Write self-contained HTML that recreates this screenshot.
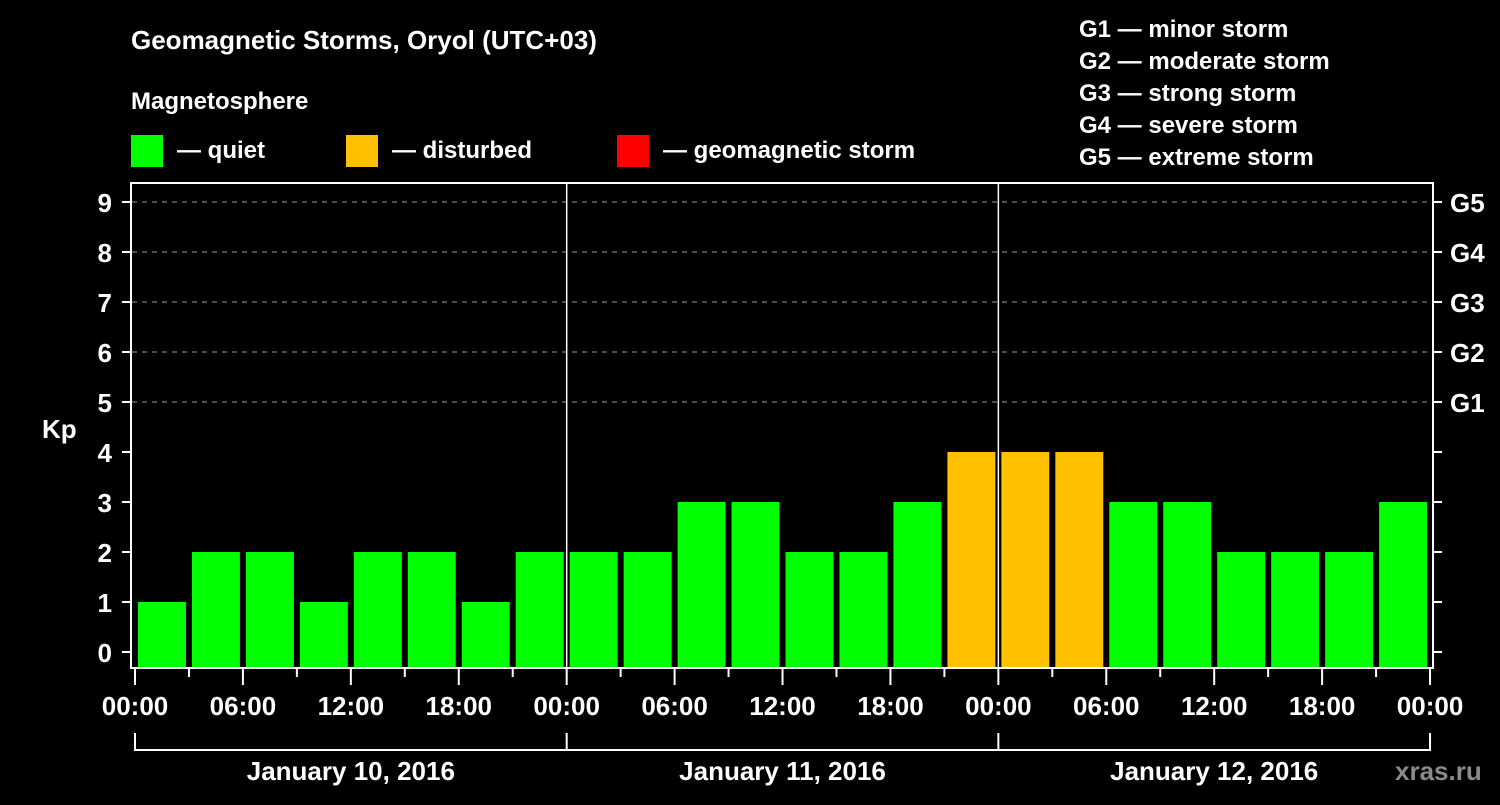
<!DOCTYPE html>
<html><head><meta charset="utf-8"><style>
body{margin:0;background:#000;}
svg text{font-family:"Liberation Sans",Arial,sans-serif;font-weight:bold;fill:#fff;}
</style></head><body>
<svg width="1500" height="800" xmlns="http://www.w3.org/2000/svg">
<rect width="1500" height="800" fill="#000"/>
<text x="131" y="49" font-size="26">Geomagnetic Storms, Oryol (UTC+03)</text>
<text x="131" y="109" font-size="24">Magnetosphere</text>
<g>
<rect x="131" y="135" width="32" height="32" fill="#00ff00"/>
<text x="177" y="158" font-size="24">— quiet</text>
<rect x="346" y="135" width="32" height="32" fill="#ffc000"/>
<text x="392" y="158" font-size="24">— disturbed</text>
<rect x="617" y="135" width="32" height="32" fill="#ff0000"/>
<text x="663" y="158" font-size="24">— geomagnetic storm</text>
</g>
<g font-size="24">
<text x="1079" y="37">G1 — minor storm</text>
<text x="1079" y="69">G2 — moderate storm</text>
<text x="1079" y="101">G3 — strong storm</text>
<text x="1079" y="133">G4 — severe storm</text>
<text x="1079" y="165">G5 — extreme storm</text>
</g>
<text x="42" y="438" font-size="26">Kp</text>
<g id="plot"></g>
<rect x="131" y="183" width="1302" height="485" fill="none" stroke="#fff" stroke-width="2"/>
<text x="1395" y="780" font-size="26" fill="#888" style="fill:#8a8a8a">xras.ru</text>
</svg>
<script>
const kpValues=[1,2,2,1,2,2,1,2, 2,2,3,3,2,2,3,4, 4,4,3,3,2,2,2,3];
const dayLabels=["January 10, 2016","January 11, 2016","January 12, 2016"];
const hourLabels=["00:00","06:00","12:00","18:00"];
const gLabels=["G1","G2","G3","G4","G5"];
const NS="http://www.w3.org/2000/svg";
const g=document.getElementById('plot');
const X0=135,SLOT=53.96,Y0=652,UNIT=50;
const xs=i=>X0+i*SLOT, ys=v=>Y0-v*UNIT;
function mk(t,a,parent){const e=document.createElementNS(NS,t);for(const k in a)e.setAttribute(k,a[k]);(parent||g).appendChild(e);return e;}
for(let v=5;v<=9;v++){const l=mk('line',{x1:132,x2:1432,y1:ys(v),y2:ys(v),stroke:'#999','stroke-dasharray':'5,5','stroke-width':1});

}
for(let v=0;v<=9;v++){
const t=mk('line',{x1:122,x2:131,y1:ys(v),y2:ys(v),stroke:'#fff','stroke-width':2});


const tr=mk('line',{x1:1433,x2:1442,y1:ys(v),y2:ys(v),stroke:'#fff','stroke-width':2});


const lb=mk('text',{x:112,y:ys(v)+10,'font-size':26,'text-anchor':'end'});lb.textContent=v;


if(v>=5){const gl=mk('text',{x:1450,y:ys(v)+10,'font-size':26});gl.textContent=gLabels[v-5];

}
}
kpValues.forEach((v,i)=>{
const col=v>=5?'#ff0000':(v>=4?'#ffc000':'#00ff00');
const b=mk('rect',{x:xs(i)+3,y:ys(v),width:SLOT-6,height:667-ys(v),fill:col});


});
for(let d=1;d<3;d++){const s=mk('line',{x1:xs(d*8),x2:xs(d*8),y1:183,y2:668,stroke:'#fff','stroke-width':1.5});

}
for(let i=0;i<=24;i++){
const long=i%2===0;
const t=mk('line',{x1:xs(i),x2:xs(i),y1:668,y2:long?685:677,stroke:'#fff','stroke-width':2});


if(long){const l=mk('text',{x:xs(i),y:715,'font-size':26,'text-anchor':'middle'});l.textContent=hourLabels[(i/2)%4];

}
}
const br=mk('path',{d:`M${xs(0)} 733V750H${xs(24)}V733M${xs(8)} 733V750M${xs(16)} 733V750`,stroke:'#fff','stroke-width':2,fill:'none'});


dayLabels.forEach((d,k)=>{const t=mk('text',{x:(xs(k*8)+xs(k*8+8))/2,y:780,'font-size':26,'text-anchor':'middle'});t.textContent=d;

});
</script>
</body></html>
